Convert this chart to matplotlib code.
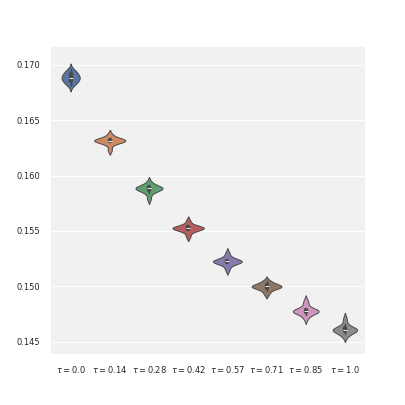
import pandas as pd
import matplotlib.pyplot as plt
import seaborn as sns

labels = [r"$\tau=0.0$", r"$\tau=0.14$", r"$\tau=0.28$", r"$\tau=0.42$",
          r"$\tau=0.57$", r"$\tau=0.71$", r"$\tau=0.85$", r"$\tau=1.0$"]

g0 = [0.1681, 0.1683, 0.1684, 0.1685, 0.1686, 0.1687, 0.1688, 0.1688, 0.1689, 0.1690, 0.1691, 0.1692, 0.1693, 0.1694, 0.1696]
g1 = [0.1623, 0.1628, 0.1630, 0.1631, 0.1631, 0.1631, 0.1632, 0.1632, 0.1632, 0.1633, 0.1634, 0.1637]
g2 = [0.1579, 0.1584, 0.1586, 0.1587, 0.1588, 0.1588, 0.1589, 0.1589, 0.1589, 0.1590, 0.1591, 0.1594]
g3 = [0.1545, 0.1549, 0.1551, 0.1552, 0.1552, 0.1552, 0.1553, 0.1553, 0.1553, 0.1554, 0.1555, 0.1559]
g4 = [0.1515, 0.1519, 0.1521, 0.1522, 0.1522, 0.1522, 0.1523, 0.1523, 0.1523, 0.1524, 0.1526, 0.1530]
g5 = [0.1493, 0.1496, 0.1498, 0.1499, 0.1499, 0.1500, 0.1500, 0.1500, 0.1501, 0.1502, 0.1503, 0.1505]
g6 = [0.1471, 0.1474, 0.1476, 0.1477, 0.1477, 0.1477, 0.1478, 0.1478, 0.1478, 0.1479, 0.1480, 0.1484, 0.1487]
g7 = [0.1455, 0.1457, 0.1459, 0.1460, 0.1460, 0.1461, 0.1461, 0.1461, 0.1462, 0.1463, 0.1466, 0.1471]
groups = [g0, g1, g2, g3, g4, g5, g6, g7]

rows = []
for lab, vals in zip(labels, groups):
    for v in vals:
        rows.append({"tau": lab, "value": v})
df = pd.DataFrame(rows)

sns.set_style("darkgrid", {"axes.facecolor": "#f1f1f1", "grid.color": "white"})
plt.rcParams["font.family"] = ["DejaVu Sans"]
plt.rcParams["mathtext.fontset"] = "dejavusans"

fig, ax = plt.subplots(figsize=(4.05, 4.05), dpi=100)
fig.subplots_adjust(left=0.126, right=0.9, top=0.884, bottom=0.126)

sns.violinplot(data=df, x="tau", y="value", hue="tau", palette="deep",
               saturation=0.75, linewidth=0.7, common_norm=True,
               legend=False, ax=ax)

ax.xaxis.grid(False)
ax.set_ylim(0.1439, 0.1716)
ax.set_yticks([0.145, 0.150, 0.155, 0.160, 0.165, 0.170])
ax.set_yticklabels(["0.145", "0.150", "0.155", "0.160", "0.165", "0.170"])
ax.tick_params(axis="both", labelsize=6, length=0)
ax.tick_params(axis="y", pad=8)
ax.tick_params(axis="x", pad=7)
ax.set_xlabel("")
ax.set_ylabel("")
for s in ax.spines.values():
    s.set_visible(False)

plt.savefig("out.png")
